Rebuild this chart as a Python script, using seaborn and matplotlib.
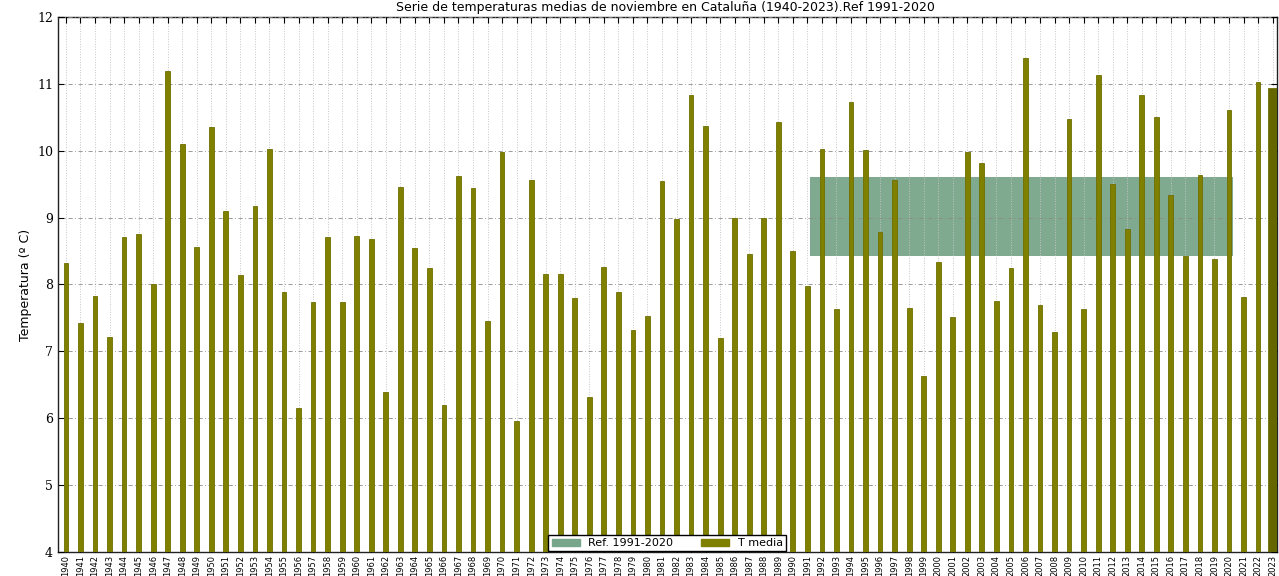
import numpy as np
import pandas as pd
import matplotlib
matplotlib.use("Agg")
import matplotlib.pyplot as plt
from matplotlib.patches import Patch
import seaborn as sns

# --- datos: temperatura media de noviembre (ºC) ---
years = list(range(1940, 2024))
t_media = [
    8.32, 7.43, 7.83, 7.22, 8.71, 8.76, 8.00, 11.19, 10.10, 8.56,   # 1940-1949
    10.36, 9.10, 8.14, 9.17, 10.03, 7.89, 6.16, 7.74, 8.71, 7.74,   # 1950-1959
    8.73, 8.68, 6.39, 9.46, 8.55, 8.25, 6.20, 9.62, 9.44, 7.46,     # 1960-1969
    9.98, 5.96, 9.56, 8.16, 8.16, 7.80, 6.32, 8.26, 7.89, 7.32,     # 1970-1979
    7.53, 9.55, 8.98, 10.83, 10.37, 7.20, 9.00, 8.46, 9.00, 10.43,  # 1980-1989
    8.50, 7.98, 10.03, 7.64, 10.73, 10.01, 8.79, 9.56, 7.65, 6.63,  # 1990-1999
    8.34, 7.52, 9.98, 9.82, 7.75, 8.25, 11.39, 7.70, 7.29, 10.48,   # 2000-2009
    7.64, 11.13, 9.50, 8.83, 10.83, 10.50, 9.34, 8.43, 9.64, 8.38,  # 2010-2019
    10.61, 7.82, 11.03, 10.94,                                      # 2020-2023
]
ref_years = (1991, 2020)
ref_band = (8.42, 9.60)   # rango de referencia 1991-2020

df = pd.DataFrame({"Año": [str(y) for y in years], "T": t_media})

OLIVA = "#808000"
OLIVA_OSC = "#666600"
VERDE = "#78a68a"

fig = plt.figure(figsize=(12.79, 5.76), dpi=100)
ax = fig.add_axes([0.0453, 0.0417, 0.9531, 0.9288])

sns.barplot(data=df, x="Año", y="T", color=OLIVA, width=0.33, saturation=1,
            edgecolor="#6e6e00", linewidth=0.6, ax=ax, zorder=3)

# ultimo año resaltado: barra mas ancha y oscura
last = ax.patches[-1]
cx = last.get_x() + last.get_width() / 2
last.set_width(0.62)
last.set_x(cx - 0.31)
last.set_facecolor(OLIVA_OSC)

# franja de referencia
i0 = years.index(ref_years[0]) + 0.2
i1 = years.index(ref_years[1]) + 0.3
ax.fill_between([i0, i1], ref_band[0], ref_band[1], color=VERDE, alpha=0.95,
                linewidth=0, zorder=1)

ax.set_xlim(-0.55, 83.3)
ax.set_ylim(4, 12)
ax.set_yticks(range(4, 13))
ax.set_xlabel("")
ax.set_ylabel("Temperatura (º C)", fontsize=9, family="Liberation Sans Narrow")

ax.tick_params(axis="x", labelrotation=90, labelsize=6, direction="in",
               top=True, length=4, pad=2)
ax.tick_params(axis="y", labelsize=9, direction="in", right=True, length=4)
for lab in ax.get_yticklabels():
    lab.set_family("DejaVu Serif")

ax.yaxis.grid(True, linestyle=(0, (5, 3, 1, 3)), color="#8a8a8a", linewidth=0.6, zorder=2)
ax.xaxis.grid(True, linestyle=":", color="#c4c4c4", linewidth=0.7, zorder=0)
ax.set_axisbelow(False)
for s in ax.spines.values():
    s.set_color("#222222")
    s.set_linewidth(1.0)

handles = [Patch(facecolor=VERDE, edgecolor=VERDE, label="Ref. 1991-2020"),
           Patch(facecolor=OLIVA, edgecolor=OLIVA, label="T media")]
leg = ax.legend(handles=handles, loc="lower center", ncol=2, fontsize=8,
                frameon=True, fancybox=False, framealpha=1, borderaxespad=0.05,
                columnspacing=2.5, handlelength=2.5, handleheight=0.6,
                borderpad=0.3)
leg.get_frame().set_edgecolor("black")
leg.set_zorder(5)

fig.text(0.52, 0.999, "Serie de temperaturas medias de noviembre en Cataluña (1940-2023).Ref 1991-2020",
         ha="center", va="top", fontsize=9)

fig.savefig("out.png", dpi=100)
